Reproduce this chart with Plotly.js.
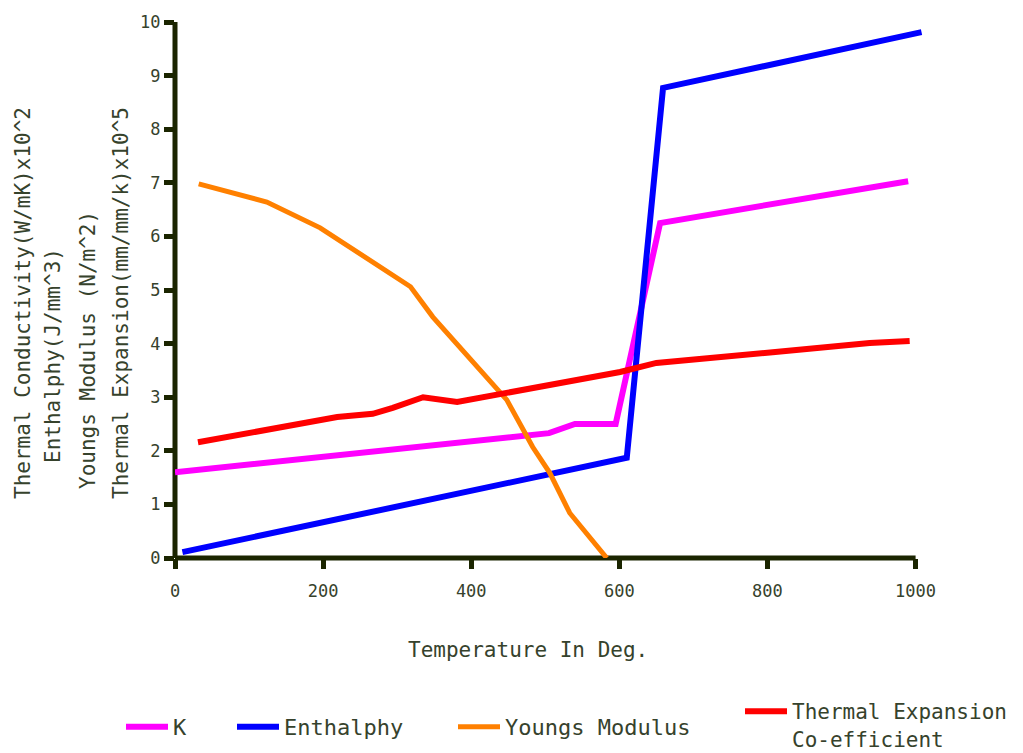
<!DOCTYPE html>
<html>
<head>
<meta charset="utf-8">
<script src="https://cdn.plot.ly/plotly-3.0.1.min.js"></script>
<style>
  html, body { margin: 0; padding: 0; background: #ffffff; }
  #chart { width: 1023px; height: 753px; }
</style>
</head>
<body>
<div id="chart"></div>
<script>
// Material properties of steel against temperature (deg.)
const kTemp = [0, 505, 540, 595, 655, 990];
const kValue = [1.60, 2.33, 2.50, 2.50, 6.25, 7.03];

const enthalpyTemp = [10, 610, 659, 1008];
const enthalpyValue = [0.11, 1.87, 8.77, 9.81];

const youngsTemp = [32, 124, 196, 318, 348, 408, 448, 483, 506, 533, 583];
const youngsValue = [6.98, 6.64, 6.16, 5.06, 4.50, 3.56, 2.95, 2.07, 1.59, 0.84, 0.0];

const expansionTemp = [31, 219, 267, 294, 335, 381, 601, 650, 807, 938, 992];
const expansionValue = [2.16, 2.63, 2.69, 2.80, 3.00, 2.91, 3.47, 3.64, 3.84, 4.01, 4.05];

const xTicks = [0, 200, 400, 600, 800, 1000];
const yTicks = [0, 1, 2, 3, 4, 5, 6, 7, 8, 9, 10];

const seriesNames = ['K', 'Enthalphy', 'Youngs Modulus', 'Thermal Expansion<br>Co-efficient'];
const yTitleLines = [
  'Thermal Conductivity(W/mK)x10^2',
  'Enthalphy(J/mm^3)',
  'Youngs Modulus (N/m^2)',
  'Thermal Expansion(mm/mm/k)x10^5'
];
const xTitle = 'Temperature In Deg.';

// plot area geometry (pixels)
const W = 1023, H = 753;
const M = { l: 175, r: 100, t: 22, b: 195, autoexpand: false };
const plotW = W - M.l - M.r, plotH = H - M.t - M.b;
const px = x => (x - M.l) / plotW;          // page x -> paper x
const py = y => (H - M.b - y) / plotH;      // page y -> paper y

const FONT = 'DejaVu Sans Mono, monospace';
const TEXT = '#36422c';
const AXIS = '#1b2500';

const traces = [
  { x: kTemp, y: kValue, name: seriesNames[0], color: '#ff00ff', w: 6, legend: 'legend' },
  { x: enthalpyTemp, y: enthalpyValue, name: seriesNames[1], color: '#0000ff', w: 6, legend: 'legend2' },
  { x: youngsTemp, y: youngsValue, name: seriesNames[2], color: '#ff8000', w: 5, legend: 'legend3' },
  { x: expansionTemp, y: expansionValue, name: seriesNames[3], color: '#ff0000', w: 6, legend: 'legend4' }
].map(s => ({
  type: 'scatter', mode: 'lines', x: s.x, y: s.y, name: s.name,
  line: { color: s.color, width: s.w }, legend: s.legend, hoverinfo: 'skip'
}));

const legendBase = {
  orientation: 'h', xanchor: 'left', yanchor: 'middle', itemwidth: 42,
  bgcolor: 'rgba(0,0,0,0)', borderwidth: 0,
  font: { family: FONT, size: 22, color: TEXT }
};

// vertical axis caption: four rotated lines
const annotations = yTitleLines.map((t, i) => ({
  text: t, textangle: -90, showarrow: false,
  xref: 'paper', yref: 'paper',
  x: px([23, 53, 88, 121][i]), y: py([303, 355, 350, 303][i]),
  xanchor: 'center', yanchor: 'middle',
  font: { family: FONT, size: 21, color: TEXT }
}));
annotations.push({
  text: xTitle, showarrow: false, xref: 'paper', yref: 'paper',
  x: px(528), y: py(650), xanchor: 'center', yanchor: 'middle',
  font: { family: FONT, size: 21, color: TEXT }
});

const layout = {
  width: W, height: H,
  margin: M,
  paper_bgcolor: '#ffffff', plot_bgcolor: 'rgba(0,0,0,0)',
  showlegend: true,
  legend: Object.assign({}, legendBase, { x: px(121), y: py(727) }),
  legend2: Object.assign({}, legendBase, { x: px(232), y: py(727) }),
  legend3: Object.assign({}, legendBase, { x: px(453), y: py(727) }),
  legend4: Object.assign({}, legendBase, {
    x: px(740), y: py(725), valign: 'top',
    font: { family: FONT, size: 21, color: TEXT }
  }),
  xaxis: {
    range: [0, 1010], tickvals: xTicks, ticktext: xTicks.map(String),
    showgrid: false, zeroline: false, showline: false,
    ticks: 'outside', ticklen: 10, tickwidth: 5, tickcolor: AXIS,
    ticklabelstandoff: 8,
    tickfont: { family: FONT, size: 17, color: TEXT }
  },
  yaxis: {
    range: [0, 10], tickvals: yTicks, ticktext: yTicks.map(String),
    showgrid: false, zeroline: false, showline: false,
    ticks: 'outside', ticklen: 10, tickwidth: 5, tickcolor: AXIS,
    tickfont: { family: FONT, size: 17, color: TEXT }
  },
  shapes: [
    // x axis line, ending at 1000
    { type: 'line', xref: 'paper', yref: 'paper', x0: 0, x1: 1000 / 1010, y0: 0, y1: 0,
      line: { color: AXIS, width: 5 }, layer: 'below' },
    // y axis line
    { type: 'line', xref: 'paper', yref: 'paper', x0: 0, x1: 0, y0: 0, y1: 1,
      line: { color: AXIS, width: 5 }, layer: 'below' }
  ],
  annotations: annotations
};

Plotly.newPlot('chart', traces, layout, { displayModeBar: false, staticPlot: true });
</script>
</body>
</html>
